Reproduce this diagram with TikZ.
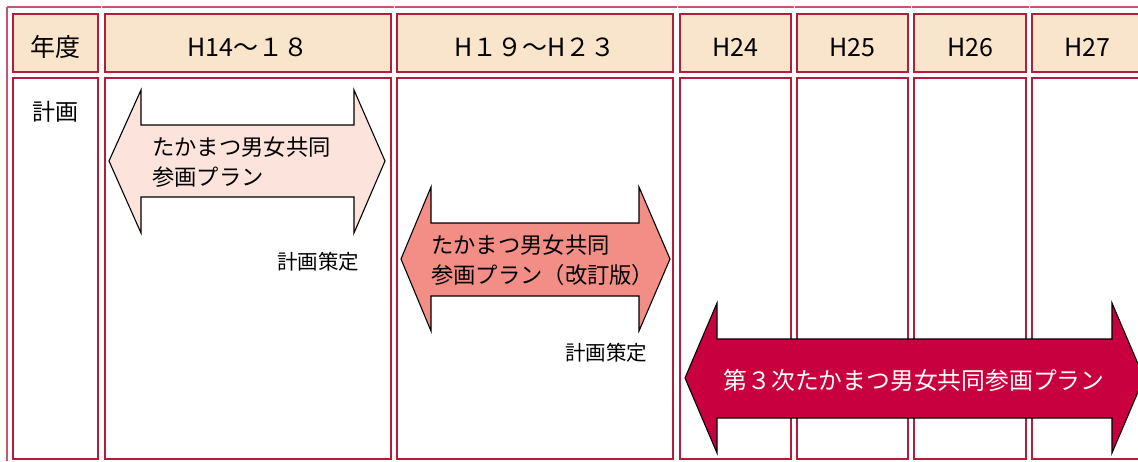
\documentclass[tikz,border=0pt]{standalone}
\usepackage{fontspec}
\setmainfont{Noto Sans CJK JP}
\definecolor{cellline}{HTML}{B01E3C}
\definecolor{outerline}{HTML}{C9566E}
\definecolor{headfill}{HTML}{F9E4CC}
\definecolor{pinkA}{HTML}{FCE3DB}
\definecolor{salmonB}{HTML}{F28E86}
\definecolor{crimsonC}{HTML}{C8003F}
\tikzset{
  cell/.style={draw=cellline, line width=1.8pt},
  headcell/.style={cell, fill=headfill},
  outer/.style={draw=outerline, line width=1.3pt},
  arrowshape/.style={draw=black, line width=1.1pt, line join=miter},
  headtxt/.style={font=\fontsize{25}{28}\selectfont, inner sep=0pt},
  bodytxt/.style={font=\fontsize{23}{26}\selectfont, inner sep=0pt},
  arrtxt/.style={font=\fontsize{22.3}{30}\selectfont, align=left, inner sep=0pt, anchor=west},
  notetxt/.style={font=\fontsize{20.5}{22}\selectfont, inner sep=0pt}
}
\begin{document}
\begin{tikzpicture}[x=1pt, y=-1pt]
\useasboundingbox (0,0) rectangle (1138,461);
\begin{scope}
\clip (0,0) rectangle (1138,461);
% outer frame
\draw[outer] (7,7) -- (7,461);
\foreach \a/\b in {7/101, 102/394, 395/677, 678/794, 795/911, 912/1029, 1030/1140}
  \draw[outer] (\a,7) -- (\b,7);
% header cells
\draw[headcell] (13,14) rectangle (98,72);
\draw[headcell] (105,14) rectangle (391,72);
\draw[headcell] (397,14) rectangle (673,72);
\draw[headcell] (680,14) rectangle (791,72);
\draw[headcell] (797,14) rectangle (908,72);
\draw[headcell] (914,14) rectangle (1026,72);
\draw[headcell] (1032,14) rectangle (1143,72);
% body cells
\draw[cell] (13,78) rectangle (98,459);
\draw[cell] (105,78) rectangle (391,459);
\draw[cell] (397,78) rectangle (673,459);
\draw[cell] (680,78) rectangle (791,459);
\draw[cell] (797,78) rectangle (908,459);
\draw[cell] (914,78) rectangle (1026,459);
\draw[cell] (1032,78) rectangle (1143,459);
% header texts
\node[headtxt] (h0) at (55.5,47) {年度};
\node[headtxt] (h1) at (248,47) {H14～１８};
\node[headtxt] (h2) at (535,47) {H１９～H２３};
\node[headtxt] (h3) at (735.5,47) {H24};
\node[headtxt] (h4) at (852.5,47) {H25};
\node[headtxt] (h5) at (970,47) {H26};
\node[headtxt] (h6) at (1087,47) {H27};
\node[bodytxt] (b0) at (55.5,112) {計画};
% arrow 1
\draw[arrowshape, fill=pinkA] (109,161) -- (141,90) -- (141,125) -- (354,125) -- (354,90) -- (385,161) -- (354,233) -- (354,197) -- (141,197) -- (141,233) -- cycle;
\node[arrtxt] (t1) at (152,162) {たかまつ男女共同\\参画プラン};
\node[notetxt] (n1) at (318,262) {計画策定};
% arrow 2
\draw[arrowshape, fill=salmonB] (401,259) -- (431,187) -- (431,223) -- (639,223) -- (639,187) -- (670,259) -- (639,331) -- (639,296) -- (431,296) -- (431,331) -- cycle;
\node[arrtxt] (t2) at (431,260) {たかまつ男女共同\\参画プラン（改訂版）};
\node[notetxt] (n2) at (606,353) {計画策定};
% arrow 3
\draw[arrowshape, fill=crimsonC] (685,378) -- (717,303) -- (717,339) -- (1112,339) -- (1112,303) -- (1144,378) -- (1112,453) -- (1112,418) -- (717,418) -- (717,453) -- cycle;
\node[font=\fontsize{23.8}{26}\selectfont, text=white, inner sep=0pt] (t3) at (914,380) {第３次たかまつ男女共同参画プラン};
\end{scope}
\end{tikzpicture}
\end{document}
